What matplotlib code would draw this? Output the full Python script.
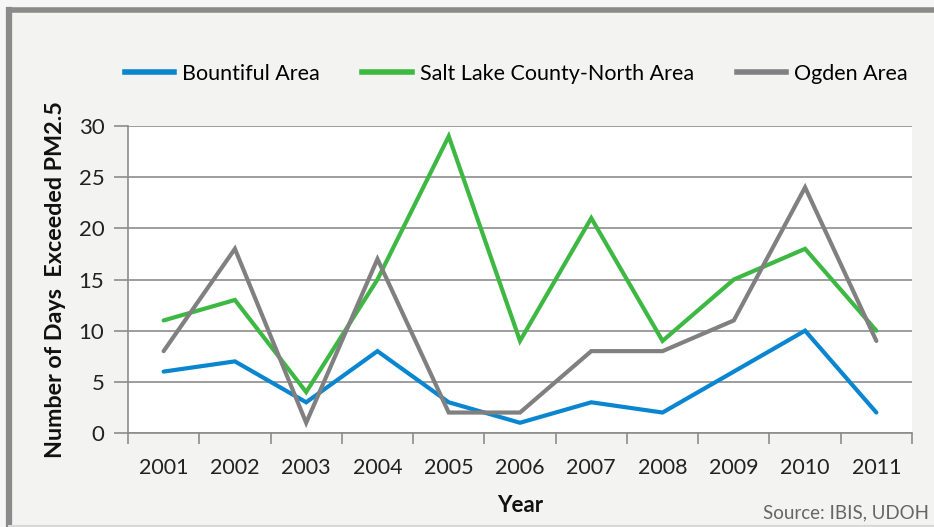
import matplotlib
matplotlib.use("Agg")
import matplotlib.pyplot as plt
from matplotlib.patches import Rectangle
from matplotlib.lines import Line2D

years = ["2001", "2002", "2003", "2004", "2005", "2006", "2007", "2008", "2009", "2010", "2011"]
bountiful = [6, 7, 3, 8, 3, 1, 3, 2, 6, 10, 2]
salt_lake = [11, 13, 4, 15, 29, 9, 21, 9, 15, 18, 10]
ogden = [8, 18, 1, 17, 2, 2, 8, 8, 11, 24, 9]
series_names = ["Bountiful Area", "Salt Lake County-North Area", "Ogden Area"]
colors = ["#0a86d0", "#3db843", "#808080"]

plt.rcParams['font.family'] = ['Lato', 'DejaVu Sans']

W, H = 934, 527
fig = plt.figure(figsize=(W / 100, H / 100), dpi=100, facecolor="#f6f6f6")

# outer frame: fill, thick left/top edges, light bottom edge
fig.add_artist(Rectangle((9 / W, 0), 1.0, (H - 10) / H, transform=fig.transFigure,
                         facecolor="#f3f3f1", edgecolor="none", zorder=0))
fig.add_artist(Line2D([9 / W, 9 / W], [0, 1 - 9.5 / H], transform=fig.transFigure,
                      color="#8a8a8a", linewidth=4.5, solid_capstyle="projecting", zorder=1))
fig.add_artist(Line2D([9 / W, 1], [1 - 9.5 / H, 1 - 9.5 / H], transform=fig.transFigure,
                      color="#8a8a8a", linewidth=4.0, solid_capstyle="projecting", zorder=1))
fig.add_artist(Line2D([9 / W, 1], [1 - 525.5 / H, 1 - 525.5 / H], transform=fig.transFigure,
                      color="#d9d9d9", linewidth=1.5, zorder=1))

ax = fig.add_axes([128 / W, (H - 433) / H, (912 - 128) / W, (433 - 126) / H])
ax.set_facecolor("white")

x = list(range(len(years)))
for vals, name, c in zip([bountiful, salt_lake, ogden], series_names, colors):
    ax.plot(x, vals, color=c, linewidth=3.0, label=name, solid_capstyle="round",
            solid_joinstyle="miter", zorder=3)

ax.set_xlim(-0.5, len(years) - 0.5)
ax.set_ylim(0, 30)
ax.set_yticks(range(0, 31, 5))
ax.set_xticks([i - 0.5 for i in range(len(years) + 1)])
ax.set_xticklabels([])
ax.set_xticks(x, minor=True)
ax.set_xticklabels(years, minor=True)
ax.tick_params(axis="x", which="minor", length=0, pad=18, labelsize=15.5, colors="#222222")
ax.tick_params(axis="x", which="major", length=8, width=1.2, color="#8c8c8c")
ax.tick_params(axis="y", length=10, width=1.2, color="#8c8c8c", labelsize=16,
               labelcolor="#222222", pad=7)
ax.grid(axis="y", color="#8c8c8c", linewidth=1.2, zorder=1)
for s in ["top", "right"]:
    ax.spines[s].set_visible(False)
for s in ["left", "bottom"]:
    ax.spines[s].set_color("#8c8c8c")
    ax.spines[s].set_linewidth(1.2)

ax.set_ylabel("Number of Days  Exceeded PM2.5", fontsize=16.8, fontweight="bold",
              color="#111111", labelpad=9)
ax.set_xlabel("Year", fontsize=16, fontweight="bold", color="#111111", labelpad=12)

handles = [Line2D([0], [0], color=c, linewidth=4) for c in colors]
fig.legend(handles, series_names, loc="center", bbox_to_anchor=(516 / W, 1 - 74 / H),
           ncol=3, frameon=False, fontsize=15.5, handlelength=2.3, columnspacing=2.0,
           handletextpad=0.35)

fig.text(929 / W, 1 - 513 / H, "Source: IBIS, UDOH", ha="right", va="center",
         fontsize=13.5, color="#666666")

fig.savefig("out.png", dpi=100, facecolor=fig.get_facecolor())
